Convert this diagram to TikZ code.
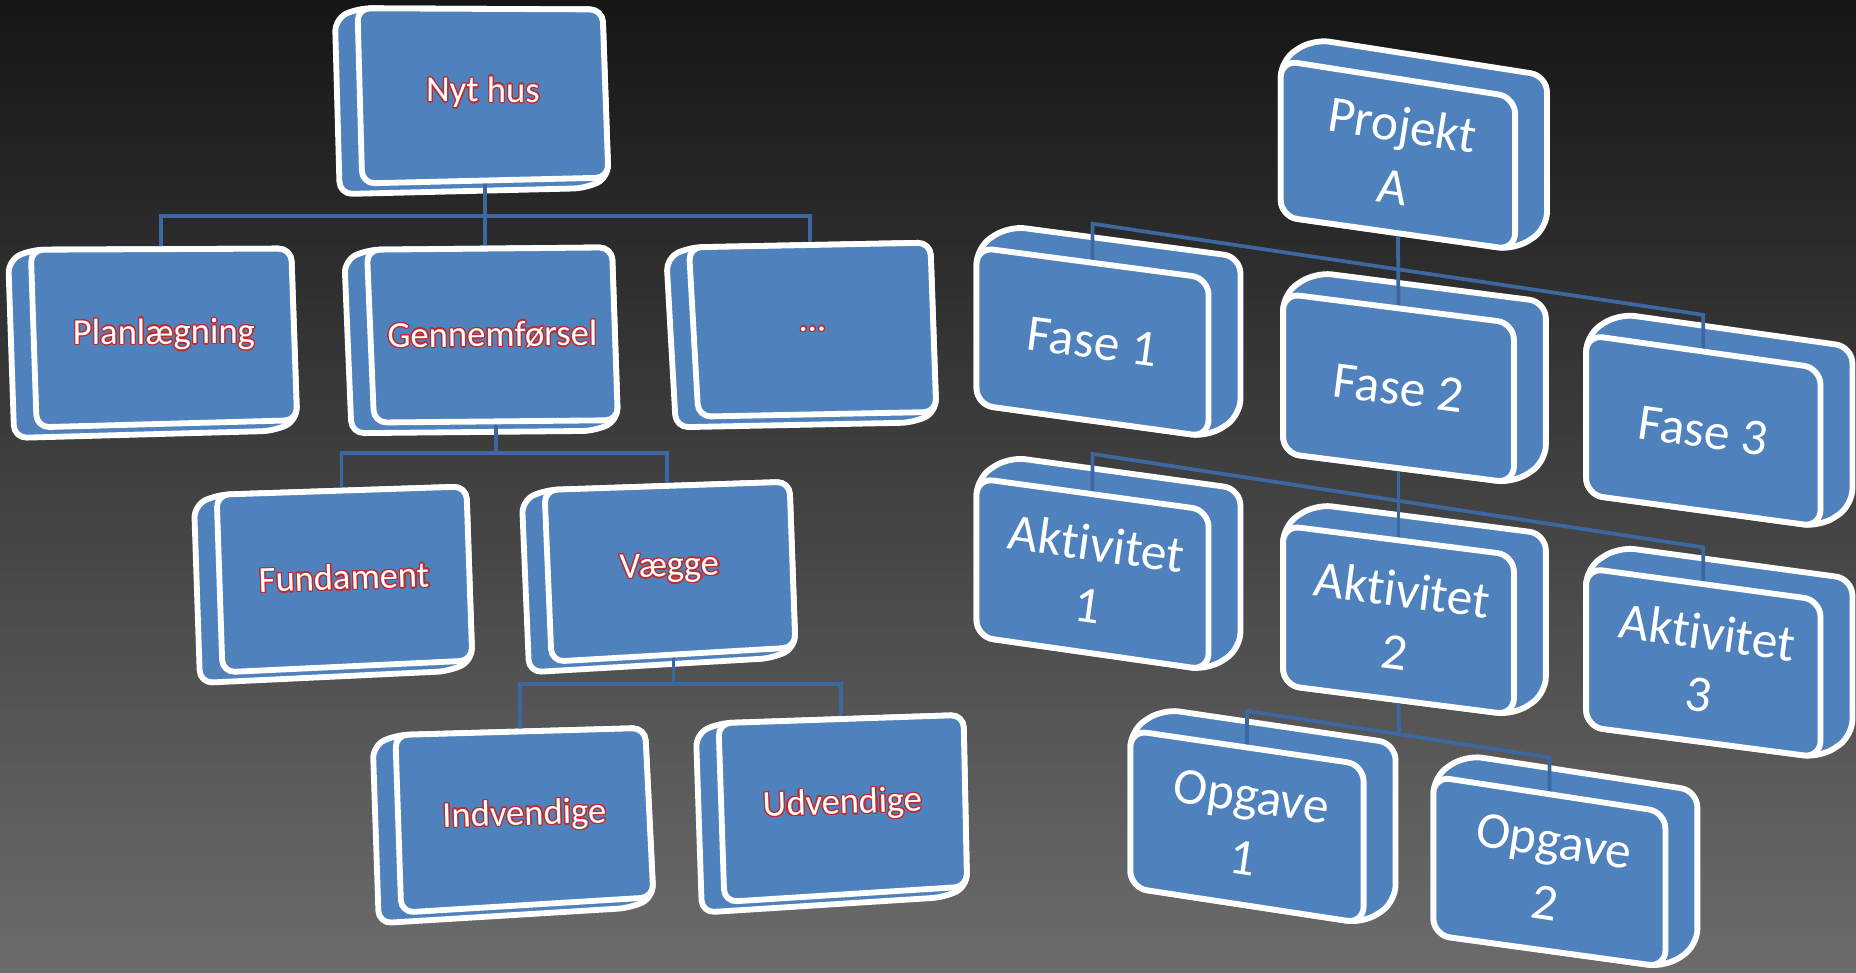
\documentclass[tikz,border=0pt]{standalone}
\usepackage{fontspec}
\setmainfont{Carlito}[Ligatures=NoCommon]
\usepackage{contour}
\contourlength{0.3pt}
\contournumber{24}
\usetikzlibrary{calc}
\definecolor{boxblue}{RGB}{79,129,189}
\definecolor{linkblue}{RGB}{60,103,160}
\definecolor{bgtop}{RGB}{22,22,22}
\definecolor{bgbottom}{RGB}{108,108,108}
\definecolor{wordred}{RGB}{190,45,45}

\pgfdeclarelayer{bg}
\pgfdeclarelayer{back}
\pgfdeclarelayer{front}
\pgfsetlayers{bg,back,main,front}

% block whose depth goes to the lower left (house tree)
\newcommand{\blockL}[6]{%
  \coordinate (#1-tl) at (#2);
  \coordinate (#1-tr) at (#3);
  \coordinate (#1-br) at (#4);
  \coordinate (#1-bl) at (#5);
  \coordinate (#1-t) at ($(#1-tl)!0.5!(#1-tr)$);
  \coordinate (#1-b) at ($(#1-bl)!0.5!(#1-br)$);
  \begin{pgfonlayer}{back}
    \draw[face] (#1-tl) -- (#1-tr) -- (#1-br) -- ($(#1-br)+(-19,9)$)
      -- ($(#1-bl)+(-19,9)$) -- ($(#1-tl)+(-19,9)$) -- cycle;
  \end{pgfonlayer}
  \begin{pgfonlayer}{front}
    \draw[face] (#1-tl) -- (#1-tr) -- (#1-br) -- (#1-bl) -- cycle;
    \path let \p1=($(#1-tr)-(#1-tl)$), \n1={atan2(\y1,\x1)} in
      node[housetxt, rotate=\n1] (#1) at ($(#1-tl)!0.5!(#1-br)$) {\contour{wordred}{#6}};
  \end{pgfonlayer}
}

% block whose depth goes to the upper right (project tree)
\newcommand{\blockR}[6]{%
  \coordinate (#1-tl) at (#2);
  \coordinate (#1-tr) at (#3);
  \coordinate (#1-br) at (#4);
  \coordinate (#1-bl) at (#5);
  \coordinate (#1-t) at ($(#1-tl)!0.5!(#1-tr)$);
  \coordinate (#1-b) at ($(#1-bl)!0.5!(#1-br)$);
  \begin{pgfonlayer}{back}
    \draw[face, rounded corners=4pt] (#1-tl) -- ($(#1-tl)+(27,-18)$) -- ($(#1-tr)+(27,-18)$)
      -- ($(#1-br)+(27,-18)$) -- (#1-br) -- (#1-bl) -- cycle;
  \end{pgfonlayer}
  \begin{pgfonlayer}{front}
    \draw[face, rounded corners=4pt] (#1-tl) -- (#1-tr) -- (#1-br) -- (#1-bl) -- cycle;
    \path let \p1=($(#1-tr)-(#1-tl)$), \n1={atan2(\y1,\x1)} in
      node[projtxt, rotate=\n1] (#1) at ($(#1-tl)!0.5!(#1-br)$) {#6};
  \end{pgfonlayer}
}

\begin{document}
\begin{tikzpicture}[
    x=0.1mm, y=-0.1mm,
    face/.style={draw=white, line width=1.4pt, fill=boxblue, rounded corners=3pt, line join=round},
    housetxt/.style={text=white, font=\fontsize{8.8}{10}\selectfont, inner sep=0pt},
    projtxt/.style={text=white, font=\fontsize{12.4}{15}\selectfont, align=center, inner sep=0pt},
    link/.style={draw=linkblue, line width=0.9pt}
]
    \useasboundingbox (0,0) rectangle (1568,822);
    \begin{pgfonlayer}{bg}
        \shade[top color=bgtop, bottom color=bgbottom] (0,0) rectangle (1568,822);
    \end{pgfonlayer}

    % house tree
    \blockL{nyt}{302,7}{509,8}{514,150}{306,155}{Nyt hus}
    \blockL{plan}{26,211}{246,210}{251,355}{31,361}{Planlægning}
    \blockL{genn}{310,211}{517,209}{522,355}{316,357}{Gennemførsel}
    \blockL{dots}{582,209}{786,205}{791,348}{590,352}{…}
    \blockL{fund}{183,418}{394,411}{399,558}{188,568}{Fundament}
    \blockL{vaeg}{460,414}{667,407}{672,547}{466,559}{Vægge}
    \blockL{indv}{334,621}{545,615}{552,758}{339,771}{Indvendige}
    \blockL{udv}{607,611}{814,604}{817,749}{612,762}{Udvendige}

    \coordinate (fork1) at ($(nyt-b)+(0,30)$);
    \draw[link] (nyt-b) -- (nyt-b |- genn-t);
    \draw[link] (plan-t) |- (fork1) -| (dots-t);
    \coordinate (fork2) at ($(genn-b)+(0,27)$);
    \draw[link] (genn-b) -- (fork2);
    \draw[link] (fund-t) |- (fork2) -| (vaeg-t);
    \coordinate (fork3) at ($(vaeg-b)+(0,25)$);
    \draw[link] (vaeg-b) -- (fork3);
    \draw[link] (indv-t) |- (fork3) -| (udv-t);

    % project tree
    \blockR{proj}{1082,51}{1280,82}{1280,211}{1082,183}{Projekt\\A}
    \blockR{fase1}{825,209}{1021,235}{1021,369}{825,342}{Fase 1}
    \blockR{fase2}{1084,248}{1279,273}{1279,408}{1084,383}{Fase 2}
    \blockR{fase3}{1340,283}{1538,311}{1538,445}{1340,418}{Fase 3}
    \blockR{akt1}{825,404}{1021,431}{1021,566}{825,538}{Aktivitet\\1}
    \blockR{akt2}{1084,444}{1279,469}{1279,604}{1084,579}{Aktivitet\\2}
    \blockR{akt3}{1340,480}{1538,507}{1538,640}{1340,614}{Aktivitet\\3}
    \blockR{opg1}{955,617}{1152,646}{1152,780}{955,750}{Opgave\\1}
    \blockR{opg2}{1211,656}{1407,686}{1407,817}{1211,790}{Opgave\\2}

    \draw[link] (fase1-t) -- ++(0,-33) -- ($(fase3-t)+(0,-31)$) -- (fase3-t);
    \draw[link] (proj-b) -- (fase2-t);
    \draw[link] (akt1-t) -- ++(0,-34) -- ($(akt3-t)+(0,-31)$) -- (akt3-t);
    \draw[link] (fase2-b) -- (akt2-t);
    \draw[link] (opg1-t) -- ++(0,-31) -- ($(opg2-t)+(0,-31)$) -- (opg2-t);
    \coordinate (opgjoin) at (1182,620);
    \draw[link] (akt2-b) -- (opgjoin);
\end{tikzpicture}
\end{document}
